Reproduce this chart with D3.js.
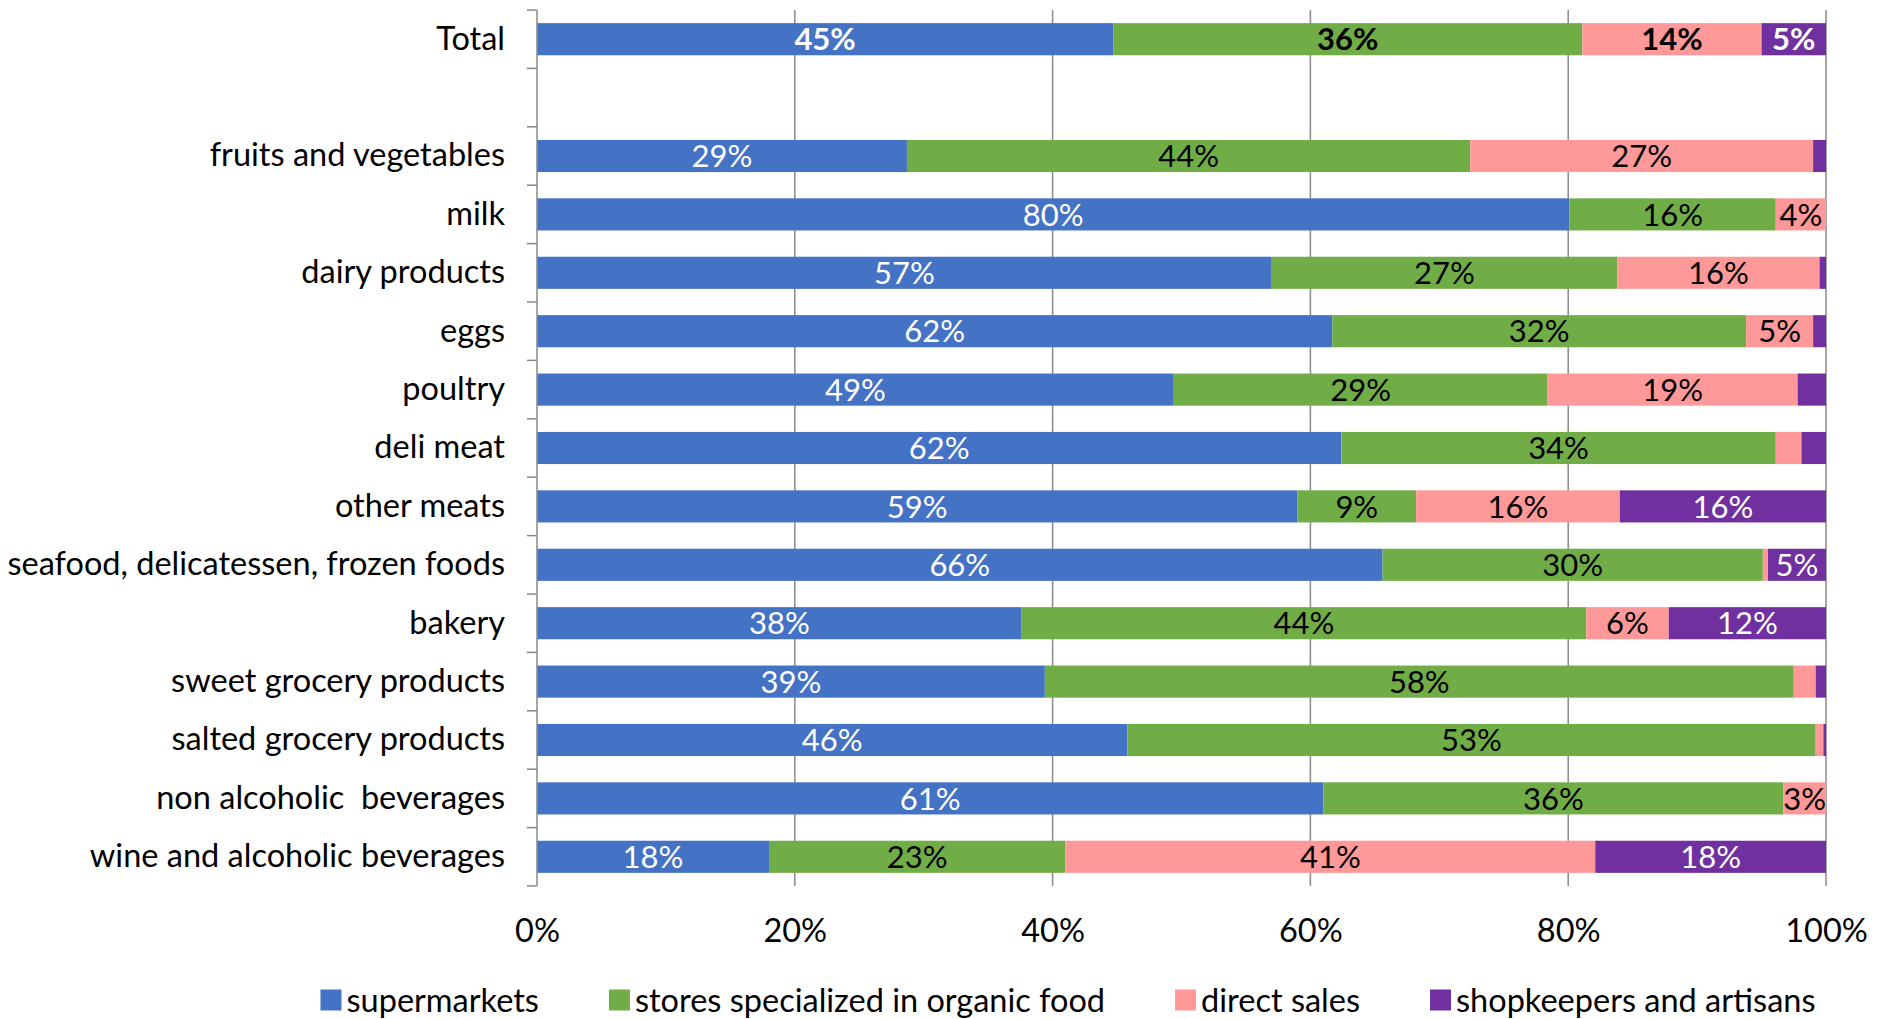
<!DOCTYPE html>
<html><head><meta charset="utf-8">
<script src="https://cdn.jsdelivr.net/npm/d3@7"></script>
<style>
html,body{margin:0;padding:0;background:#fff;}
svg{display:block;font-family:Lato,"Noto Sans",sans-serif;}
</style></head>
<body>
<svg id="chart" width="1881" height="1019"></svg>
<script>
const categories = ["Total", "", "fruits and vegetables", "milk", "dairy products", "eggs", "poultry", "deli meat", "other meats", "seafood, delicatessen, frozen foods", "bakery", "sweet grocery products", "salted grocery products", "non alcoholic  beverages", "wine and alcoholic beverages"];
const seriesNames = ["supermarkets", "stores specialized in organic food", "direct sales", "shopkeepers and artisans"];
const supermarkets = [44.7, null, 28.7, 80.1, 57.0, 61.7, 49.4, 62.4, 59.0, 65.6, 37.6, 39.4, 45.8, 61.0, 18.0];
const organicStores = [36.4, null, 43.7, 16.0, 26.8, 32.1, 29.0, 33.7, 9.2, 29.5, 43.8, 58.1, 53.4, 35.7, 23.0];
const directSales = [13.9, null, 26.6, 3.9, 15.7, 5.2, 19.4, 2.0, 15.8, 0.4, 6.4, 1.7, 0.6, 3.3, 41.1];
const shopkeepers = [5.0, null, 1.0, 0.0, 0.5, 1.0, 2.2, 1.9, 16.0, 4.5, 12.2, 0.8, 0.2, 0.0, 17.9];
const xTicks = [0, 20, 40, 60, 80, 100];
const colors = ["#4472C4", "#70AD47", "#FF9999", "#7030A0"];
const labelColors = ["#ffffff", "#000000", "#000000", "#ffffff"];

const series = [supermarkets, organicStores, directSales, shopkeepers];
const svg = d3.select("#chart");
const mLeft = 537, mRight = 1826, mTop = 10, mBottom = 886;
const FS = 32.5, FSD = 31;

const x = d3.scaleLinear().domain([0, 100]).range([mLeft, mRight]);
const y = d3.scaleBand().domain(categories).range([mTop, mBottom]).paddingInner(0.45).paddingOuter(0.225);

// gridlines
svg.append("g").selectAll("line").data(xTicks.filter(d => d > 0)).join("line")
  .attr("x1", d => x(d)).attr("x2", d => x(d)).attr("y1", mTop).attr("y2", mBottom)
  .attr("stroke", "#898989").attr("stroke-width", 1.5);

// stacked data
const rows = categories.map((c, i) => ({cat: c, vals: series.map(s => s[i])})).filter(r => r.vals[0] !== null);
const segs = [];
rows.forEach(r => {
  let acc = 0;
  r.vals.forEach((v, k) => { segs.push({cat: r.cat, k, v, x0: acc, x1: acc + v}); acc += v; });
});

svg.append("g").selectAll("rect").data(segs.filter(d => d.v > 0)).join("rect")
  .attr("x", d => x(d.x0)).attr("width", d => x(d.x1) - x(d.x0))
  .attr("y", d => y(d.cat)).attr("height", y.bandwidth())
  .attr("fill", d => colors[d.k]);

svg.append("g").selectAll("text").data(segs.filter(d => d.v >= 3)).join("text")
  .attr("x", d => (x(d.x0) + x(d.x1)) / 2)
  .attr("y", d => y(d.cat) + y.bandwidth() / 2)
  .attr("dy", "0.36em")
  .attr("text-anchor", "middle")
  .attr("font-size", FSD)
  .attr("font-weight", d => d.cat === "Total" ? "bold" : "normal")
  .attr("fill", d => labelColors[d.k])
  .text(d => Math.round(d.v) + "%");

// y axis (labels)
const yAxis = svg.append("g").attr("transform", `translate(${mLeft},0)`)
  .call(d3.axisLeft(y).tickSize(0).tickPadding(32));
yAxis.select(".domain").remove();
yAxis.selectAll("text").attr("font-size", FS).attr("font-family", "Lato, 'Noto Sans', sans-serif").attr("fill", "#000").style("white-space", "pre");

// y axis line and boundary ticks
const step = y.step();
const bounds = d3.range(categories.length + 1).map(i => mTop + i * step);
svg.append("line").attr("x1", mLeft).attr("x2", mLeft).attr("y1", mTop).attr("y2", mBottom)
  .attr("stroke", "#898989").attr("stroke-width", 1.5);
svg.append("g").selectAll("line").data(bounds).join("line")
  .attr("x1", mLeft - 10).attr("x2", mLeft).attr("y1", d => d).attr("y2", d => d)
  .attr("stroke", "#898989").attr("stroke-width", 1.5);

// x axis labels
const xAxis = svg.append("g").attr("transform", `translate(0,${mBottom})`)
  .call(d3.axisBottom(x).tickValues(xTicks).tickFormat(d => d + "%").tickSize(0).tickPadding(33));
xAxis.select(".domain").remove();
xAxis.selectAll("text").attr("font-size", FS).attr("font-family", "Lato, 'Noto Sans', sans-serif").attr("fill", "#000");

// legend
const legend = svg.append("g");
const items = legend.selectAll("g").data(seriesNames).join("g");
items.append("rect").attr("width", 21).attr("height", 21).attr("y", -10.5).attr("fill", (d, i) => colors[i]);
items.append("text").attr("x", 26).attr("dy", "0.36em").attr("font-size", FS).attr("fill", "#000").text(d => d);
const widths = [];
items.each(function() { widths.push(this.getBBox().width); });
const gap = 70;
const total = d3.sum(widths) + gap * (widths.length - 1);
let cx = 1068 - total / 2;
items.attr("transform", (d, i) => { const t = `translate(${cx},1000)`; cx += widths[i] + gap; return t; });
</script>
</body></html>
